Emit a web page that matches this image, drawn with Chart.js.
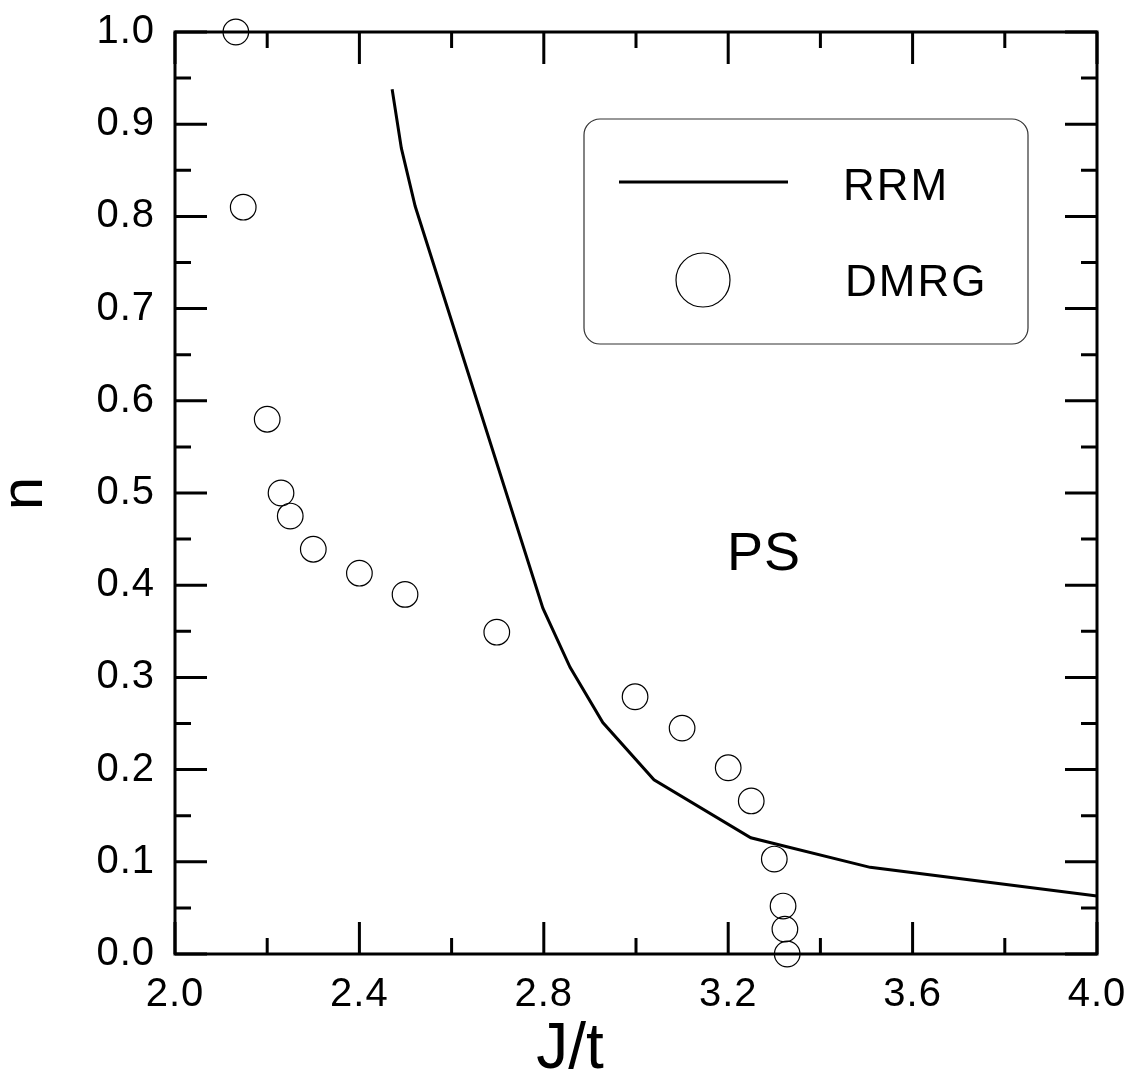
<!DOCTYPE html>
<html><head><meta charset="utf-8">
<script src="https://cdn.jsdelivr.net/npm/chart.js@4.4.1/dist/chart.umd.min.js"></script>
<style>html,body{margin:0;padding:0;background:#fff;overflow:hidden}canvas{display:block}</style>
</head><body>
<canvas id="c" width="1128" height="1083"></canvas>
<script>
// ---- data ----
const rrmJ = [2.471, 2.491, 2.521, 2.798, 2.857, 2.928, 3.039, 3.249, 3.508, 4.0];
const rrmN = [0.938, 0.874, 0.811, 0.375, 0.311, 0.251, 0.189, 0.126, 0.094, 0.063];
const dmrgJ = [2.132, 2.148, 2.200, 2.230, 2.250, 2.300, 2.400, 2.499, 2.698, 2.998, 3.100, 3.200, 3.250, 3.300, 3.319, 3.323, 3.328];
const dmrgN = [1.000, 0.810, 0.580, 0.500, 0.475, 0.439, 0.413, 0.390, 0.349, 0.279, 0.245, 0.202, 0.166, 0.103, 0.052, 0.027, 0.000];
const xTicks = [2.0, 2.4, 2.8, 3.2, 3.6, 4.0];
const xMinor = [2.2, 2.6, 3.0, 3.4, 3.8];
const yTicks = [0.0, 0.1, 0.2, 0.3, 0.4, 0.5, 0.6, 0.7, 0.8, 0.9, 1.0];
const yMinor = [0.05, 0.15, 0.25, 0.35, 0.45, 0.55, 0.65, 0.75, 0.85, 0.95];
const seriesNames = ['RRM', 'DMRG'];
const regionLabel = 'PS';
const xTitle = 'J/t';
const yTitle = 'n';

const FONT = "'Liberation Sans', Arial, sans-serif";

const framePlugin = {
  id: 'frame',
  beforeDraw(chart) {
    chart.ctx.letterSpacing = '1px';
  },
  afterDatasetsDraw(chart) {
    const {ctx, chartArea: a, scales: {x, y}} = chart;
    ctx.save();
    ctx.strokeStyle = '#000';
    ctx.lineWidth = 3;
    ctx.lineCap = 'butt';
    ctx.strokeRect(a.left, a.top, a.right - a.left, a.bottom - a.top);
    const major = 32, minor = 16;
    ctx.beginPath();
    const xt = (v, len) => {
      const p = x.getPixelForValue(v);
      ctx.moveTo(p, a.bottom); ctx.lineTo(p, a.bottom - len);
      ctx.moveTo(p, a.top); ctx.lineTo(p, a.top + len);
    };
    const yt = (v, len) => {
      const p = y.getPixelForValue(v);
      ctx.moveTo(a.left, p); ctx.lineTo(a.left + len, p);
      ctx.moveTo(a.right, p); ctx.lineTo(a.right - len, p);
    };
    xTicks.forEach(v => xt(v, major));
    xMinor.forEach(v => xt(v, minor));
    yTicks.forEach(v => yt(v, major));
    yMinor.forEach(v => yt(v, minor));
    ctx.stroke();

    // legend box
    ctx.lineWidth = 1.2;
    ctx.strokeStyle = '#333';
    ctx.beginPath();
    ctx.roundRect(584, 119, 444, 225, 16);
    ctx.stroke();
    ctx.strokeStyle = '#000';
    ctx.lineWidth = 3;
    ctx.beginPath();
    ctx.moveTo(619, 182); ctx.lineTo(788, 182);
    ctx.stroke();
    ctx.lineWidth = 1.2;
    ctx.beginPath();
    ctx.arc(703, 280, 27, 0, Math.PI * 2);
    ctx.stroke();
    ctx.fillStyle = '#000';
    ctx.font = '44px ' + FONT;
    ctx.letterSpacing = '2px';
    ctx.textAlign = 'left';
    ctx.textBaseline = 'alphabetic';
    ctx.fillText(seriesNames[0], 843, 200);
    ctx.fillText(seriesNames[1], 845, 296);
    ctx.font = '54px ' + FONT;
    ctx.letterSpacing = '1px';
    ctx.fillText(regionLabel, 727, 570);

    // x axis title
    ctx.font = '64px ' + FONT;
    ctx.letterSpacing = '0px';
    ctx.textAlign = 'center';
    ctx.fillText(xTitle, 570, 1068);
    ctx.restore();
  }
};

const zeroPad = s => { s.paddingLeft = 0; s.paddingRight = 0; s.paddingTop = 0; s.paddingBottom = 0; };

new Chart(document.getElementById('c'), {
  type: 'scatter',
  data: {
    datasets: [
      {
        label: seriesNames[0],
        data: rrmJ.map((v, i) => ({x: v, y: rrmN[i]})),
        showLine: true,
        borderColor: '#000',
        borderWidth: 3,
        pointRadius: 0,
        tension: 0,
        fill: false,
        clip: false
      },
      {
        label: seriesNames[1],
        data: dmrgJ.map((v, i) => ({x: v, y: dmrgN[i]})),
        showLine: false,
        pointStyle: 'circle',
        pointRadius: 12.8,
        pointBorderWidth: 1.2,
        pointBorderColor: '#000',
        pointBackgroundColor: 'rgba(0,0,0,0)',
        clip: false
      }
    ]
  },
  options: {
    responsive: false,
    animation: false,
    devicePixelRatio: 1,
    layout: {padding: {top: 32, right: 31, left: 0, bottom: 0}},
    plugins: {legend: {display: false}, tooltip: {enabled: false}},
    events: [],
    scales: {
      x: {
        type: 'linear', min: 2, max: 4,
        afterBuildTicks: s => { s.ticks = xTicks.map(v => ({value: v})); },
        afterFit: s => { s.height = 129; zeroPad(s); },
        grid: {display: false, drawTicks: false},
        border: {display: false},
        ticks: {
          callback: v => Number(v).toFixed(1),
          font: {size: 40, family: FONT},
          color: '#000', padding: 17, maxRotation: 0, autoSkip: false
        },
        title: {display: false, text: xTitle}
      },
      y: {
        type: 'linear', min: 0, max: 1,
        afterBuildTicks: s => { s.ticks = yTicks.map(v => ({value: v})); },
        afterFit: s => { s.width = 175; zeroPad(s); },
        grid: {display: false, drawTicks: false},
        border: {display: false},
        ticks: {
          callback: v => Number(v).toFixed(1),
          font: {size: 40, family: FONT},
          color: '#000', padding: 20, autoSkip: false
        },
        title: {display: true, text: yTitle, color: '#000',
          font: {size: 60, family: FONT, lineHeight: 0.84}, padding: 0}
      }
    }
  },
  plugins: [framePlugin]
});
</script>
</body></html>
